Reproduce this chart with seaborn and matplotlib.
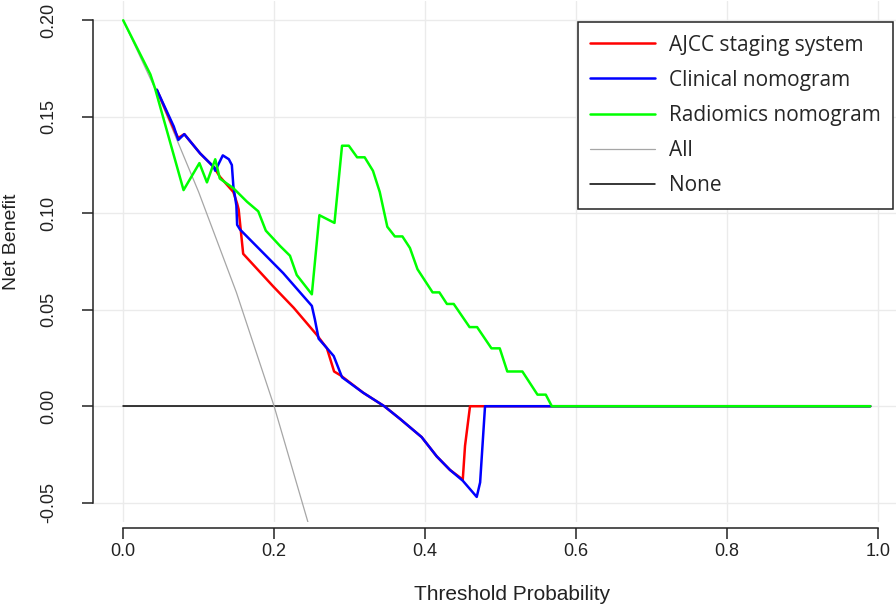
import numpy as np
import pandas as pd
import matplotlib
matplotlib.use('Agg')
import matplotlib.pyplot as plt
import seaborn as sns

# Curve di decisione
ajcc_x = [0.0446, 0.069, 0.073, 0.081, 0.102, 0.120, 0.128, 0.146, 0.151, 0.153, 0.159,
          0.199, 0.226, 0.2565, 0.270, 0.2795, 0.288, 0.318, 0.346, 0.367, 0.3955,
          0.4155, 0.433, 0.450, 0.453, 0.4596, 0.990]
ajcc_y = [0.164, 0.142, 0.139, 0.141, 0.131, 0.124, 0.119, 0.111, 0.105, 0.102, 0.079,
          0.062, 0.051, 0.037, 0.030, 0.018, 0.016, 0.007, 0.000, -0.0066, -0.016,
          -0.026, -0.033, -0.038, -0.0205, 0.000, 0.000]

clin_x = [0.0446, 0.067, 0.073, 0.081, 0.102, 0.120, 0.122, 0.132, 0.140, 0.144, 0.146,
          0.150, 0.151, 0.155, 0.212, 0.250, 0.254, 0.259, 0.268, 0.279, 0.290, 0.318,
          0.346, 0.367, 0.3955, 0.4155, 0.433, 0.450, 0.4685, 0.473, 0.4795, 0.990]
clin_y = [0.164, 0.145, 0.138, 0.141, 0.131, 0.124, 0.122, 0.130, 0.128, 0.125, 0.114,
          0.104, 0.094, 0.0915, 0.069, 0.052, 0.045, 0.035, 0.031, 0.026, 0.015, 0.007,
          0.000, -0.0066, -0.016, -0.026, -0.033, -0.0386, -0.047, -0.0395, 0.000, 0.000]

rad_x = [0.0, 0.036, 0.042, 0.080, 0.101, 0.111, 0.122, 0.128, 0.146, 0.164, 0.179,
         0.189, 0.208, 0.221, 0.230, 0.250, 0.260, 0.280, 0.290, 0.299, 0.310, 0.320,
         0.331, 0.340, 0.350, 0.360, 0.370, 0.380, 0.390, 0.410, 0.419, 0.429, 0.438,
         0.459, 0.469, 0.488, 0.499, 0.509, 0.529, 0.549, 0.560, 0.568, 0.990]
rad_y = [0.200, 0.172, 0.165, 0.112, 0.126, 0.116, 0.128, 0.118, 0.113, 0.106, 0.101,
         0.091, 0.083, 0.078, 0.068, 0.058, 0.099, 0.095, 0.135, 0.135, 0.129, 0.129,
         0.122, 0.111, 0.093, 0.088, 0.088, 0.082, 0.071, 0.059, 0.059, 0.053, 0.053,
         0.041, 0.041, 0.030, 0.030, 0.018, 0.018, 0.006, 0.006, 0.000, 0.000]

all_x = [0.0, 0.05, 0.10, 0.15, 0.20, 0.25]
all_y = [0.200, 0.158, 0.111, 0.059, 0.000, -0.067]

none_x = [0.0, 0.99]
none_y = [0.0, 0.0]

x_ticks = [0.0, 0.2, 0.4, 0.6, 0.8, 1.0]
y_ticks = [-0.05, 0.00, 0.05, 0.10, 0.15, 0.20]

sns.set_style('white')
plt.rcParams['font.family'] = ['Liberation Sans', 'DejaVu Sans']

fig = plt.figure(figsize=(8.96, 6.10), dpi=100)
ax = fig.add_axes([93 / 896, (610 - 522) / 610, 815 / 896, 521 / 610])

sns.lineplot(x=none_x, y=none_y, color='black', lw=1.1, ax=ax, label='None',
             estimator=None, sort=False)
sns.lineplot(x=all_x, y=all_y, color='#A6A6A6', lw=0.9, ax=ax, label='All',
             estimator=None, sort=False)
sns.lineplot(x=ajcc_x, y=ajcc_y, color='#FF0000', lw=1.8, ax=ax, label='AJCC staging system',
             estimator=None, sort=False)
sns.lineplot(x=clin_x, y=clin_y, color='#0000FF', lw=1.8, ax=ax, label='Clinical nomogram',
             estimator=None, sort=False)
sns.lineplot(x=rad_x, y=rad_y, color='#00FF00', lw=1.8, ax=ax, label='Radiomics nomogram',
             estimator=None, sort=False)

ax.set_xlim(-0.04, 1.04)
ax.set_ylim(-0.06, 0.21)
ax.set_xticks(x_ticks)
ax.set_yticks(y_ticks)
ax.set_xticklabels([f'{v:.1f}' for v in x_ticks])
ax.set_yticklabels([f'{v:.2f}' for v in y_ticks], rotation=90, va='center')
ax.grid(True, color='#EBEBEB', lw=1)
ax.set_axisbelow(True)

for s in ['top', 'right']:
    ax.spines[s].set_visible(False)
ax.spines['left'].set_bounds(-0.05, 0.20)
ax.spines['bottom'].set_bounds(0.0, 1.0)
ax.spines['bottom'].set_position(('outward', 4))
for s in ['left', 'bottom']:
    ax.spines[s].set_color('#222222')
    ax.spines[s].set_linewidth(1.1)
ax.tick_params(axis='both', direction='out', length=8, width=1.1, color='#222222',
               labelsize=13, labelcolor='#222222', bottom=True, left=True)
ax.tick_params(axis='y', pad=18)
ax.tick_params(axis='x', pad=3)

ax.set_xlabel('Threshold Probability', fontsize=15, color='#222222')
ax.set_ylabel('Net Benefit', fontsize=14, color='#222222')
ax.xaxis.set_label_coords(0.514, -0.140)
ax.xaxis.label.set_va('center')
ax.yaxis.set_label_coords(-0.0994, 0.537)
ax.yaxis.label.set_va('center')

h, l = ax.get_legend_handles_labels()
order = [2, 3, 4, 1, 0]
leg = ax.legend([h[i] for i in order], [l[i] for i in order],
                loc='upper right', bbox_to_anchor=(893 / 896, 1 - 22 / 610),
                bbox_transform=fig.transFigure, borderaxespad=0, fancybox=False,
                framealpha=1, edgecolor='#222222', handlelength=3.1,
                labelspacing=0.68, borderpad=0.6, handletextpad=0.67,
                prop={'family': ['Open Sans', 'DejaVu Sans'], 'size': 15})
leg.get_frame().set_linewidth(1.1)

plt.savefig('out.png', dpi=100)
